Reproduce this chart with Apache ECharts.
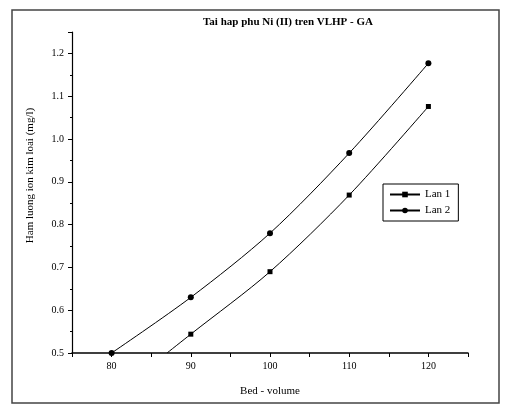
<!DOCTYPE html>
<html>
<head>
<meta charset="utf-8">
<script src="https://cdn.jsdelivr.net/npm/echarts@6/dist/echarts.min.js"></script>
<style>
    html, body { margin: 0; padding: 0; background: #fff; }
    #chart { width: 505px; height: 409px; }
</style>
</head>
<body>
<div id="chart"></div>
<script>
var titleText = "Tai hap phu Ni (II) tren VLHP - GA";
var xName = "Bed - volume";
var yName = "Ham luong ion kim loai (mg/l)";
var seriesNames = ["Lan 1", "Lan 2"];
// Lan 1 starts on the axis without a marker
var lan1 = [[87, 0.5, false], [90, 0.544, true], [100, 0.69, true], [110, 0.869, true], [120, 1.076, true]];
var lan2 = [[80, 0.5], [90, 0.63], [100, 0.78], [110, 0.967], [120, 1.177]];
var xTicks = [80, 90, 100, 110, 120];

var serif = "Liberation Serif";

var myChart = echarts.init(document.getElementById('chart'));
var option = {
    backgroundColor: '#fff',
    animation: false,
    graphic: [
        {
            type: 'rect',
            shape: { x: 12, y: 10, width: 487, height: 393 },
            style: { fill: 'none', stroke: '#444', lineWidth: 1.5 }
        },
        {
            type: 'text',
            x: 288, y: 22,
            style: {
                text: titleText, fill: '#000', align: 'center', verticalAlign: 'middle',
                font: 'bold 11px "Liberation Serif"'
            }
        }
    ],
    legend: {
        data: seriesNames,
        orient: 'vertical',
        left: 383,
        top: 184,
        borderColor: '#000',
        borderWidth: 1,
        padding: [5, 8, 5, 6],
        itemGap: 5,
        itemWidth: 30,
        itemHeight: 7,
        textStyle: { fontFamily: serif, fontSize: 11, color: '#000' }
    },
    grid: { left: 72, right: 37, top: 32, bottom: 56 },
    xAxis: {
        type: 'value',
        min: 75,
        max: 125,
        interval: 5,
        name: xName,
        nameLocation: 'middle',
        nameGap: 33,
        nameTextStyle: { fontFamily: serif, fontSize: 11, color: '#000' },
        axisLine: { lineStyle: { color: '#000', width: 1.5 } },
        axisTick: { length: 4, lineStyle: { color: '#000' } },
        axisLabel: {
            fontFamily: serif, fontSize: 10, color: '#000', margin: 8,
            formatter: function (v) { return xTicks.indexOf(v) >= 0 ? String(v) : ''; }
        },
        splitLine: { show: false }
    },
    yAxis: {
        type: 'value',
        min: 0.5,
        max: 1.25,
        interval: 0.1,
        name: yName,
        nameLocation: 'middle',
        nameGap: 36,
        nameTextStyle: { fontFamily: serif, fontSize: 11, color: '#000', padding: [0, 0, 0, 34] },
        axisLine: { show: true, lineStyle: { color: '#000', width: 1.2 } },
        axisTick: { length: 4, lineStyle: { color: '#000' } },
        minorTick: { show: true, splitNumber: 2, length: 2, lineStyle: { color: '#000' } },
        axisLabel: {
            fontFamily: serif, fontSize: 10, color: '#000', margin: 8,
            showMaxLabel: false,
            formatter: function (v) { return v.toFixed(1); }
        },
        splitLine: { show: false }
    },
    series: [
        {
            name: seriesNames[0],
            type: 'line',
            smooth: 0.3,
            symbol: 'rect',
            symbolSize: 5,
            color: '#000',
            lineStyle: { width: 1, color: '#000' },
            data: lan1.map(function (d) {
                return d[2] ? [d[0], d[1]] : { value: [d[0], d[1]], symbol: 'none' };
            })
        },
        {
            name: seriesNames[1],
            type: 'line',
            smooth: 0.3,
            symbol: 'circle',
            symbolSize: 6,
            color: '#000',
            lineStyle: { width: 1, color: '#000' },
            data: lan2
        }
    ]
};
myChart.setOption(option);
</script>
</body>
</html>
